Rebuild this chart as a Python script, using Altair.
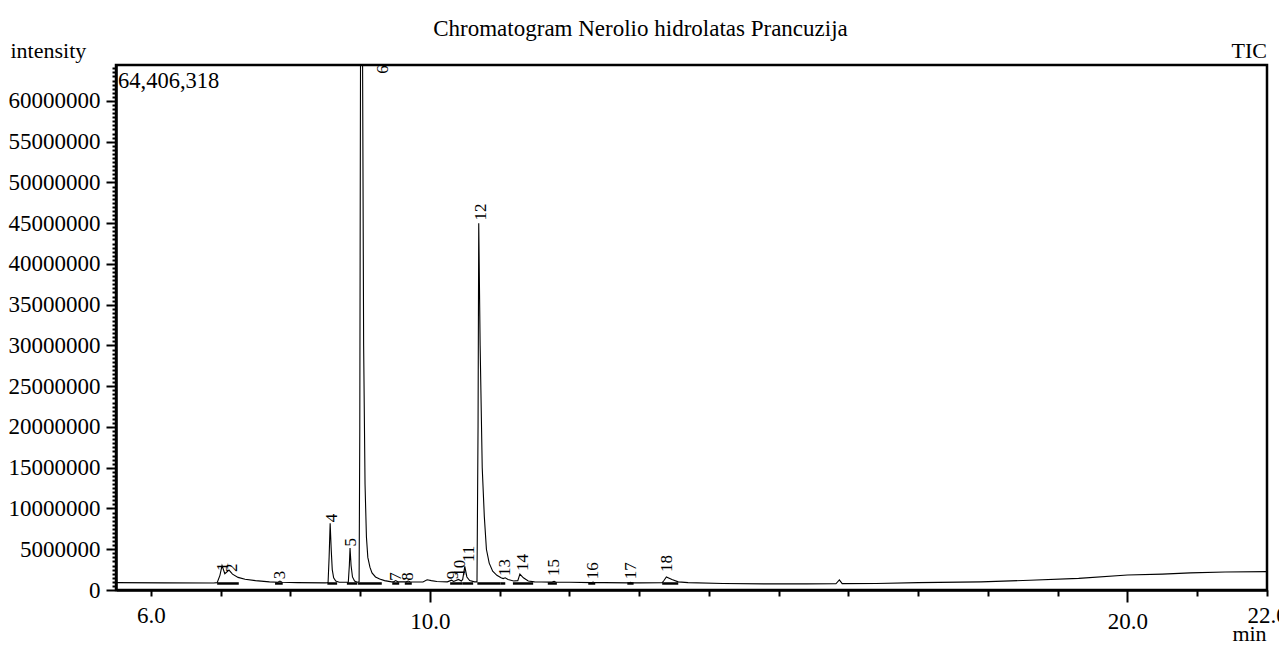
import altair as alt
import pandas as pd

FONT = "Liberation Serif"

# ---- chromatogram trace (retention time in min, intensity in millions of counts) ----
trace_t = [5.50, 6.20, 6.90, 6.95, 6.99, 7.02, 7.06, 7.12, 7.17, 7.25, 7.35, 7.50, 7.70,
           7.82, 7.85, 7.88, 8.10, 8.50, 8.54, 8.555, 8.57, 8.585, 8.60, 8.62, 8.65, 8.70,
           8.83, 8.845, 8.855, 8.87, 8.89, 8.92, 8.96, 8.985, 8.995, 9.005, 9.035, 9.05,
           9.07, 9.09, 9.11, 9.14, 9.17, 9.22, 9.28, 9.35, 9.45, 9.48, 9.51, 9.54, 9.66,
           9.69, 9.72, 9.90, 9.96, 10.02, 10.10, 10.25, 10.31, 10.34, 10.41, 10.45, 10.47,
           10.50, 10.53, 10.57, 10.64, 10.675, 10.69, 10.70, 10.72, 10.75, 10.78, 10.81,
           10.85, 10.90, 10.96, 11.02, 11.05, 11.08, 11.12, 11.20, 11.26, 11.29, 11.34,
           11.41, 11.50, 11.60, 11.75, 11.78, 11.81, 12.00, 12.32, 12.34, 12.36, 12.50,
           12.86, 12.88, 12.90, 13.00, 13.33, 13.35, 13.39, 13.47, 13.56, 13.70, 14.20,
           14.80, 15.40, 15.82, 15.87, 15.91, 16.40, 17.00, 17.90, 18.60, 19.30, 20.00,
           20.50, 20.90, 21.40, 22.00]
trace_i = [0.90, 0.88, 0.86, 0.90, 1.80, 3.00, 2.00, 2.45, 1.95, 1.55, 1.32, 1.15, 1.00,
           0.95, 1.10, 0.95, 0.90, 0.88, 0.90, 4.00, 8.20, 5.00, 2.50, 1.50, 1.10, 0.95,
           0.95, 3.00, 5.15, 3.00, 1.60, 1.10, 0.95, 1.00, 20.0, 64.41, 64.41, 30.0,
           13.0, 6.5, 4.0, 2.8, 2.1, 1.6, 1.35, 1.15, 1.00, 1.00, 1.15, 1.00, 1.00,
           1.10, 0.98, 0.98, 1.25, 1.15, 1.05, 1.00, 1.20, 1.05, 1.30, 1.10, 1.30,
           2.90, 1.60, 1.15, 1.00, 1.00, 20.0, 45.0, 30.0, 15.0, 9.0, 5.0,
           3.3, 2.3, 1.8, 1.5, 1.4, 1.5, 1.3, 1.1, 1.15, 1.95, 1.5,
           1.1, 1.0, 0.98, 0.97, 1.05, 0.96, 0.95, 0.91, 0.98, 0.90, 0.90,
           0.88, 0.95, 0.87, 0.88, 0.90, 1.10, 1.60, 1.30, 1.00, 0.90, 0.80,
           0.75, 0.75, 0.76, 1.23, 0.78, 0.80, 0.90, 1.00, 1.20, 1.43, 1.84,
           1.95, 2.10, 2.20, 2.25]

# ---- peak labels ----
peak_names = ["1", "2", "3", "4", "5", "6", "7", "8", "9", "10", "11", "12", "13", "14",
              "15", "16", "17", "18"]
peak_label_t = [7.03, 7.16, 7.85, 8.60, 8.87, 9.33, 9.51, 9.69, 10.33, 10.43, 10.56, 10.73,
                11.08, 11.34, 11.78, 12.34, 12.88, 13.40]
peak_label_i = [2.2, 2.1, 1.2, 8.2, 5.2, 63.2, 1.0, 1.0, 1.2, 1.5, 3.3, 45.2,
                1.6, 2.2, 1.6, 1.2, 1.2, 2.1]

# ---- integration baselines (start / end retention time) ----
int_start = [6.95, 7.78, 8.53, 8.81, 8.97, 9.46, 9.64, 10.29, 10.47, 10.68, 11.01, 11.19,
             11.69, 12.27, 12.83, 13.33]
int_end = [7.26, 7.89, 8.67, 8.96, 9.31, 9.56, 9.74, 10.47, 10.62, 11.01, 11.08, 11.48,
           11.82, 12.37, 12.92, 13.56]
int_level = 0.8

max_intensity = 64.406318   # millions -> 64,406,318
t_min, t_max = 5.5, 22.0

x_ticks = list(range(6, 23))
y_ticks = [i * 0.5 for i in range(129)]

trace = pd.DataFrame({"t": trace_t, "i": trace_i})
peaks = pd.DataFrame({"t": peak_label_t, "i": peak_label_i, "name": peak_names})
ints = pd.DataFrame({"t": int_start, "t2": int_end, "i": [int_level] * len(int_start)})
maxlab = pd.DataFrame({"t": [t_min], "i": [max_intensity],
                       "txt": [f"{round(max_intensity * 1e6):,}"]})
ticlab = pd.DataFrame({"t": [t_max], "i": [max_intensity], "txt": ["TIC"]})

xscale = alt.Scale(domain=[t_min, t_max], nice=False, zero=False)
yscale = alt.Scale(domain=[0, max_intensity], nice=False)

x_axis = alt.Axis(
    values=x_ticks,
    labelExpr="(datum.value==6||datum.value==10||datum.value==20||datum.value==22) ? format(datum.value,'.1f') : ''",
    tickSize={"condition": {"test": "datum.value==10||datum.value==20", "value": 12}, "value": 6},
    labelPadding=8,
    title="min", titleX=1133, titleY=50, titleAlign="center", titleBaseline="alphabetic",
    labelFlush=False, labelOverlap=False,
)
y_axis = alt.Axis(
    values=y_ticks,
    labelExpr="datum.value % 5 == 0 ? format(datum.value*1000000,'d') : ''",
    tickSize={"condition": {"test": "datum.value % 5 == 0", "value": 10}, "value": 4},
    labelPadding=6, labelOverlap=False, labelFlush=False,
    title="intensity", titleAngle=0, titleX=-106, titleY=-8, titleAlign="left",
    titleBaseline="alphabetic",
)

X = alt.X("t:Q", scale=xscale, axis=x_axis)
Y = alt.Y("i:Q", scale=yscale, axis=y_axis)

line = alt.Chart(trace).mark_line(color="black", strokeWidth=1.1, clip=True).encode(
    x=X, y=Y, order="t:Q",
)

rules = alt.Chart(ints).mark_rule(color="black", strokeWidth=2.5).encode(
    x=X, x2="t2:Q", y=Y
)

labels = alt.Chart(peaks).mark_text(
    angle=270, align="left", baseline="middle", font=FONT, fontSize=17, color="black", dx=1
).encode(x=X, y=Y, text="name:N")

maxtext = alt.Chart(maxlab).mark_text(
    align="left", baseline="alphabetic", font=FONT, fontSize=22.5, color="black", dx=2, dy=23
).encode(x=X, y=Y, text="txt:N")

tictext = alt.Chart(ticlab).mark_text(
    align="right", baseline="alphabetic", font=FONT, fontSize=22, color="black", dy=-7
).encode(x=X, y=Y, text="txt:N")

chart = alt.layer(line, rules, labels, maxtext, tictext).properties(
    width=1151, height=525,
    autosize="none",
    padding={"left": 108, "top": 57, "right": 12, "bottom": 55},
    title=alt.TitleParams(
        "Chromatogram Nerolio hidrolatas Prancuzija", font=FONT, fontSize=23,
        fontWeight="normal", color="black", anchor="middle", dx=-51, offset=-2,
    ),
).configure_view(stroke="black", strokeWidth=2.5).configure_axis(
    domainColor="black", domainWidth=2.5, tickColor="black", tickWidth=2,
    labelFont=FONT, labelFontSize=23, labelColor="black",
    titleFont=FONT, titleFontSize=22, titleFontWeight="normal", titleColor="black",
    grid=False,
)

chart.save("out.html", embed_options={"renderer": "svg", "actions": False})
